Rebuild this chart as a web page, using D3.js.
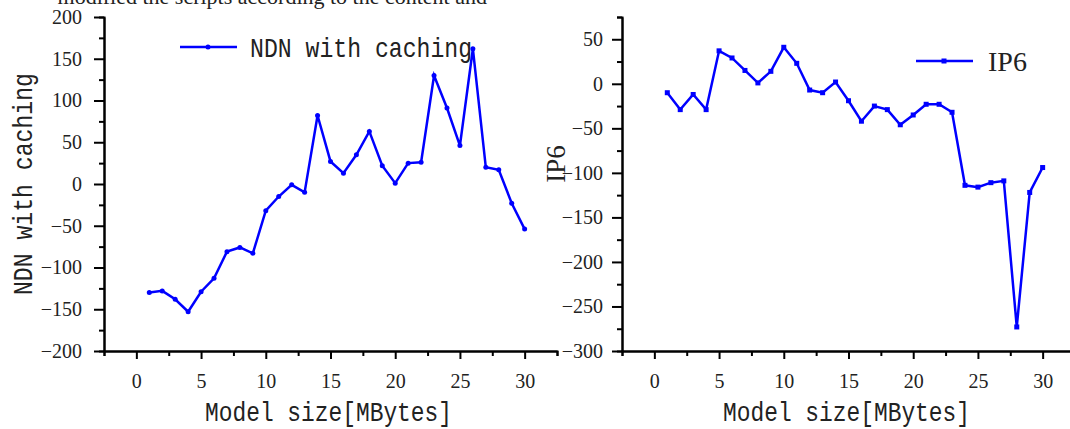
<!DOCTYPE html>
<html>
<head>
<meta charset="utf-8">
<script src="https://cdn.jsdelivr.net/npm/d3@7"></script>
<style>
    body { margin: 0; background: #fff; }
    svg { display: block; }
    .tick text { font-family: "Liberation Serif", serif; font-size: 20px; fill: #222; }
    .mono { font-family: "Liberation Mono", monospace; font-size: 28px; fill: #222; }
    .serif { font-family: "Liberation Serif", serif; fill: #222; }
</style>
</head>
<body>
<svg id="chart"></svg>
<script>
const sizes = [1, 2, 3, 4, 5, 6, 7, 8, 9, 10, 11, 12, 13, 14, 15,
    16, 17, 18, 19, 20, 21, 22, 23, 24, 25, 26, 27, 28, 29, 30];

const ndnValues = [-130, -128, -138, -153, -129, -113, -81, -76, -83, -32,
    -15, -1, -10, 82, 27, 13, 35, 63, 22, 1,
    25, 26, 130, 91, 46, 162, 20, 17, -23, -54];

const ip6Values = [-10, -29, -12, -29, 37, 29, 15, 1, 14, 41,
    23, -7, -10, 2, -19, -42, -25, -29, -46, -35,
    -23, -23, -32, -114, -116, -111, -109, -273, -122, -94];

const xTicks = [0, 5, 10, 15, 20, 25, 30];
const ndnTicks = [-200, -150, -100, -50, 0, 50, 100, 150, 200];
const ip6Ticks = [-300, -250, -200, -150, -100, -50, 0, 50];

const width = 1070,
    height = 429;

const svg = d3.select("#chart").attr("width", width).attr("height", height);

// cut-off line of body text above the figure
svg.append("text")
    .attr("class", "serif")
    .attr("x", 487)
    .attr("y", 4)
    .attr("text-anchor", "end")
    .style("font-size", "22px")
    .text("modified the scripts according to the content and");

function minorRange(lo, hi, step) {
    let out = [];
    for (let v = lo; v <= hi + 1e-9; v += step) out.push(v);
    return out;
}

function drawPanel(opts) {
    const g = svg.append("g");
    const x = d3.scaleLinear().domain([-2.5, 32.5]).range([opts.left, opts.left + 453]);
    const y = d3.scaleLinear().domain(opts.yDomain).range([351, 17]);

    // minor ticks
    g.append("g")
        .attr("transform", "translate(0,351)")
        .call(d3.axisBottom(x).tickValues(minorRange(-2.5, 32.5, 5)).tickSize(5).tickFormat(""));
    g.append("g")
        .attr("transform", `translate(${opts.left},0)`)
        .call(d3.axisLeft(y).tickValues(minorRange(opts.yDomain[0] + 25, opts.yDomain[1], 50)).tickSize(5).tickFormat(""));

    // major ticks
    g.append("g")
        .attr("transform", "translate(0,351)")
        .call(d3.axisBottom(x).tickValues(xTicks).tickSizeInner(8).tickSizeOuter(0).tickPadding(15));
    g.append("g")
        .attr("transform", `translate(${opts.left},0)`)
        .call(d3.axisLeft(y).tickValues(opts.yTicks).tickSizeInner(10).tickSizeOuter(0).tickPadding(opts.yPad));

    g.selectAll(".domain, .tick line").attr("stroke", "#000").attr("stroke-width", 2);

    const line = d3.line().x((d, i) => x(sizes[i])).y(d => y(d));
    g.append("path")
        .datum(opts.values)
        .attr("fill", "none")
        .attr("stroke", "#0000ff")
        .attr("stroke-width", 2.5)
        .attr("stroke-linejoin", "miter")
        .attr("d", line);

    if (opts.marker == "circle") {
        g.selectAll(".pt").data(opts.values).enter().append("circle")
            .attr("cx", (d, i) => x(sizes[i]))
            .attr("cy", d => y(d))
            .attr("r", 2.5)
            .attr("fill", "#0000ff");
    } else {
        g.selectAll(".pt").data(opts.values).enter().append("rect")
            .attr("x", (d, i) => x(sizes[i]) - 2.5)
            .attr("y", d => y(d) - 2.5)
            .attr("width", 5)
            .attr("height", 5)
            .attr("fill", "#0000ff");
    }

    // x title
    g.append("text")
        .attr("class", "mono")
        .attr("x", opts.left + 101)
        .attr("y", 421)
        .attr("textLength", 247)
        .attr("lengthAdjust", "spacingAndGlyphs")
        .text("Model size[MBytes]");

    return { g, x, y };
}

// left panel: NDN with caching
const left = drawPanel({
    left: 104,
    yDomain: [-200, 200],
    yTicks: ndnTicks,
    yPad: 12,
    values: ndnValues,
    marker: "circle"
});

left.g.append("text")
    .attr("class", "mono")
    .attr("transform", "translate(32,184) rotate(-90)")
    .attr("x", -111)
    .attr("textLength", 222)
    .attr("lengthAdjust", "spacingAndGlyphs")
    .text("NDN with caching");

// legend
left.g.append("line")
    .attr("x1", 180).attr("x2", 237).attr("y1", 47).attr("y2", 47)
    .attr("stroke", "#0000ff").attr("stroke-width", 2.5);
left.g.append("circle")
    .attr("cx", 208).attr("cy", 47).attr("r", 2.5).attr("fill", "#0000ff");
left.g.append("text")
    .attr("class", "mono")
    .attr("x", 250)
    .attr("y", 57)
    .attr("textLength", 222)
    .attr("lengthAdjust", "spacingAndGlyphs")
    .text("NDN with caching");

// right panel: IP6
const right = drawPanel({
    left: 622,
    yDomain: [-300, 75],
    yTicks: ip6Ticks,
    yPad: 9,
    values: ip6Values,
    marker: "square"
});

right.g.append("text")
    .attr("class", "serif")
    .attr("transform", "translate(565,164) rotate(-90)")
    .attr("text-anchor", "middle")
    .style("font-size", "27px")
    .text("IP6");

right.g.append("line")
    .attr("x1", 916).attr("x2", 973).attr("y1", 61).attr("y2", 61)
    .attr("stroke", "#0000ff").attr("stroke-width", 2.5);
right.g.append("rect")
    .attr("x", 941.5).attr("y", 58.5).attr("width", 5).attr("height", 5).attr("fill", "#0000ff");
right.g.append("text")
    .attr("class", "serif")
    .attr("x", 988)
    .attr("y", 71)
    .style("font-size", "28px")
    .text("IP6");
</script>
</body>
</html>
